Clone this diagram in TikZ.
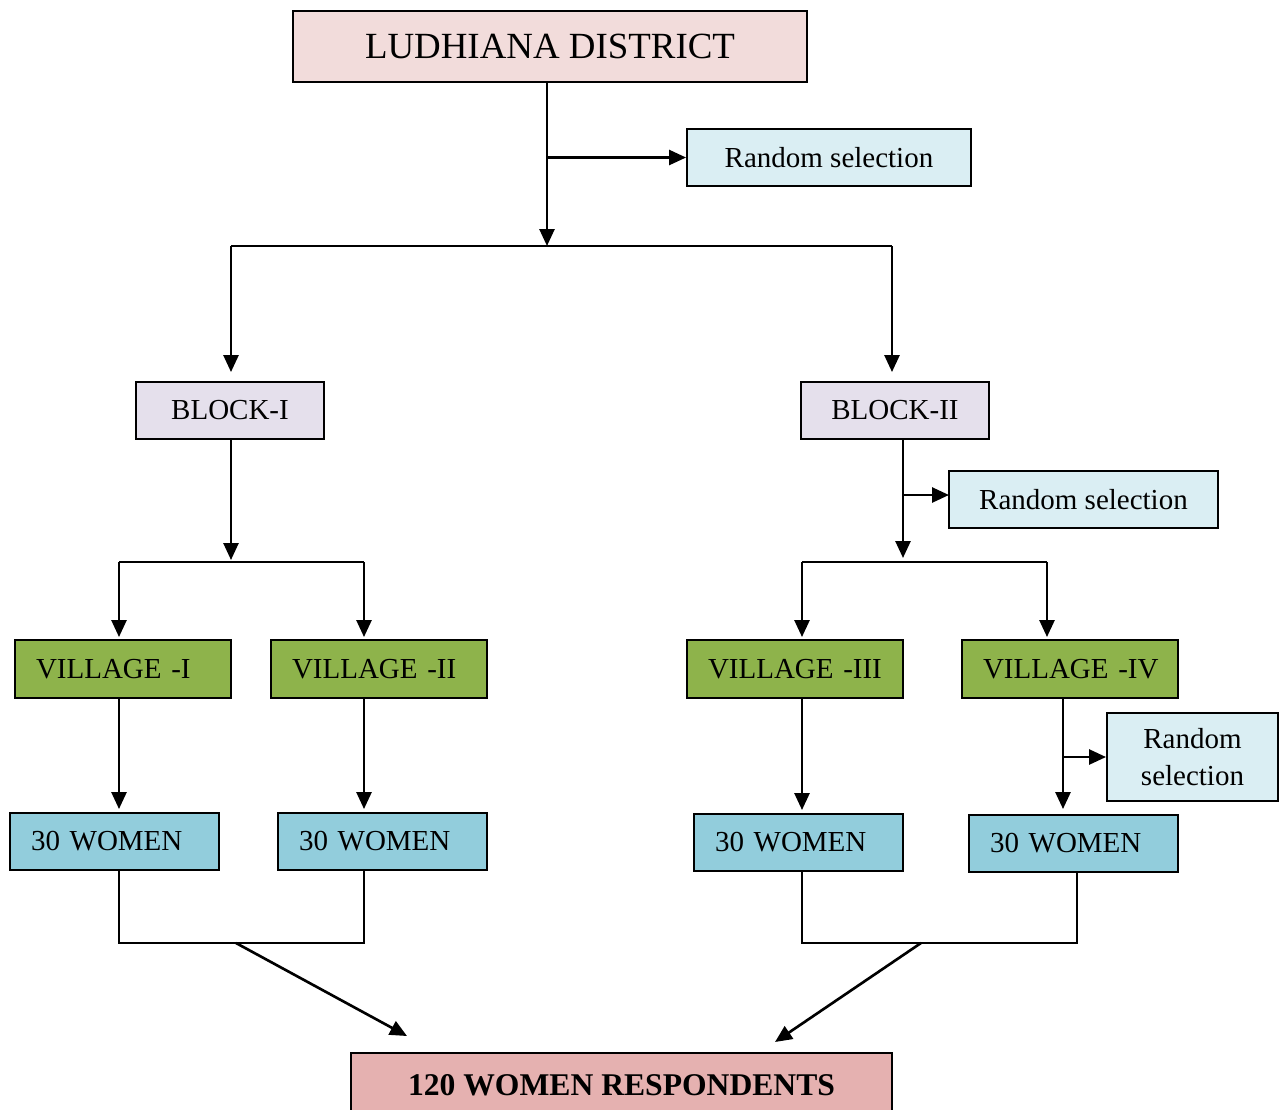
\documentclass[tikz,border=0pt]{standalone}
\usepackage{fontspec}
\setmainfont{Liberation Serif}
\usetikzlibrary{arrows.meta,positioning}

\definecolor{distpink}{HTML}{F2DCDB}
\definecolor{randblue}{HTML}{DAEEF3}
\definecolor{blocklilac}{HTML}{E5E0EC}
\definecolor{villgreen}{HTML}{8EB34B}
\definecolor{womenblue}{HTML}{92CDDC}
\definecolor{finpink}{HTML}{E5B1B0}

\tikzset{
  box/.style={draw, line width=1.1pt, inner sep=0pt, font=\fontsize{16.5}{21.5}\selectfont},
  randbox/.style={box, fill=randblue, align=center},
  villbox/.style={box, fill=villgreen, minimum height=1.16cm, text width=3.48cm, inner xsep=0.42cm, align=left},
  womenbox/.style={box, fill=womenblue, minimum height=1.14cm, text width=3.34cm, inner xsep=0.42cm, align=left},
  arr/.style={line width=1.5pt, -{Triangle[length=0.34cm,width=0.3cm]}},
  link/.style={line width=1.5pt},
  thinlink/.style={line width=0.7pt},
}

\begin{document}
\begin{tikzpicture}[x=0.02cm, y=-0.02cm]
  \clip (0,0) rectangle (1286,1110);

  % boxes
  \node[box, fill=distpink, minimum width=10.28cm, minimum height=1.42cm, font=\fontsize{21}{25}\selectfont] (dist) at (550,46.5) {LUDHIANA DISTRICT};
  \node[randbox, minimum width=5.68cm, minimum height=1.14cm] (rs1) at (829,157.5) {Random selection};
  \node[box, fill=blocklilac, minimum width=3.76cm, minimum height=1.14cm] (b1) at (230,410.5) {BLOCK-I};
  \node[box, fill=blocklilac, minimum width=3.76cm, minimum height=1.14cm] (b2) at (895,410.5) {BLOCK-II};
  \node[randbox, minimum width=5.38cm, minimum height=1.14cm] (rs2) at (1083.5,499.5) {Random selection};
  \node[villbox] (v1) at (123,669) {\mbox{VILLAGE -I}};
  \node[villbox] (v2) at (379,669) {\mbox{VILLAGE -II}};
  \node[villbox] (v3) at (795,669) {\mbox{VILLAGE -III}};
  \node[villbox] (v4) at (1070,669) {\mbox{VILLAGE -IV}};
  \node[randbox, minimum width=3.42cm, minimum height=1.76cm] (rs3) at (1192.5,757) {Random\\selection};
  \node[womenbox] (w1) at (114.5,841.5) {30 WOMEN};
  \node[womenbox] (w2) at (382.5,841.5) {30 WOMEN};
  \node[womenbox] (w3) at (798.5,842.5) {30 WOMEN};
  \node[womenbox] (w4) at (1073.5,843.5) {30 WOMEN};
  \node[box, fill=finpink, minimum width=10.82cm, minimum height=1.28cm, font=\fontsize{18}{22}\selectfont\bfseries] (fin) at (621.5,1085) {120 WOMEN RESPONDENTS};

  % junctions
  \coordinate (jtop) at (547,246);
  \coordinate (jl) at (231,246);
  \coordinate (jr) at (892,246);
  \coordinate (j2) at (231,562);
  \coordinate (j2l) at (119,562);
  \coordinate (j2r) at (364,562);
  \coordinate (j3) at (903,562);
  \coordinate (j3l) at (802,562);
  \coordinate (j3r) at (1047,562);
  \coordinate (rs2in) at (949,495);
  \coordinate (v4x) at (1063,700);
  \coordinate (bl) at (236,943);
  \coordinate (br) at (921,943);
  \coordinate (tl) at (407,1036);
  \coordinate (tr) at (775,1042);

  % district to blocks
  \draw[arr] (dist.south -| jtop) -- (jtop);
  \draw[arr] (dist.south -| jtop) |- (rs1.west);
  \draw[link] (jl) -- (jr);
  \draw[arr, shorten >=0.18cm] (jl) -- (jl |- b1.north);
  \draw[arr, shorten >=0.18cm] (jr) -- (jr |- b2.north);

  % blocks to villages
  \draw[arr, shorten >=0.04cm] (b1.south -| j2) -- (j2);
  \draw[link] (j2l) -- (j2r);
  \draw[arr, shorten >=0.04cm] (j2l) -- (j2l |- v1.north);
  \draw[arr, shorten >=0.04cm] (j2r) -- (j2r |- v2.north);
  \draw[arr, shorten >=0.08cm] (b2.south -| j3) -- (j3);
  \draw[arr] (b2.south -| j3) |- (rs2in);
  \draw[link] (j3l) -- (j3r);
  \draw[arr, shorten >=0.04cm] (j3l) -- (j3l |- v3.north);
  \draw[arr, shorten >=0.04cm] (j3r) -- (j3r |- v4.north);

  % villages to women
  \draw[arr, shorten >=0.06cm] (j2l |- v1.south) -- (j2l |- w1.north);
  \draw[arr, shorten >=0.06cm] (j2r |- v2.south) -- (j2r |- w2.north);
  \draw[arr, shorten >=0.06cm] (j3l |- v3.south) -- (j3l |- w3.north);
  \draw[arr, shorten >=0.1cm] (v4x |- v4.south) -- (v4x |- w4.north);
  \draw[arr] (v4x |- v4.south) |- (rs3.west);

  % women to respondents
  \draw[thinlink] (j2l |- w1.south) |- (bl) -| (j2r |- w2.south);
  \draw[thinlink] (j3l |- w3.south) |- (br) -| (1077,872);
  \draw[arr] (bl) -- (tl);
  \draw[arr] (br) -- (tr);
\end{tikzpicture}
\end{document}
